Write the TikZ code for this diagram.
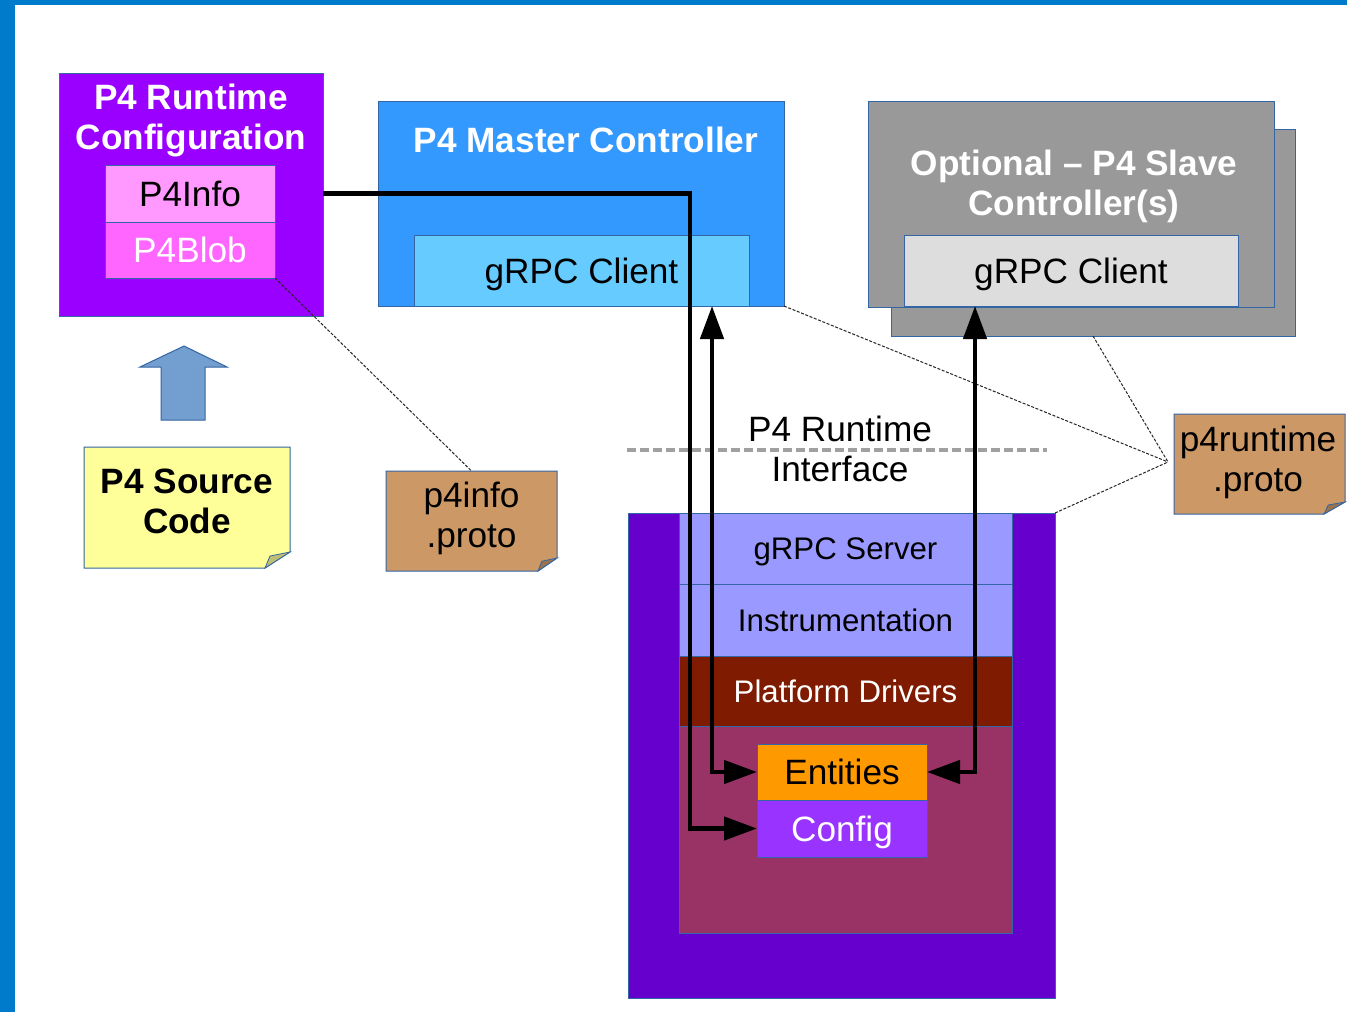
\documentclass[tikz,border=0pt]{standalone}
\usepackage{fontspec}
\setmainfont{Liberation Sans}
\usetikzlibrary{arrows.meta,calc}
\definecolor{framec}{HTML}{007BCB}
\definecolor{boxline}{HTML}{3465A4}
\definecolor{violetc}{HTML}{9900FF}
\definecolor{pinkc}{HTML}{FF99FF}
\definecolor{magc}{HTML}{FF66FF}
\definecolor{masterc}{HTML}{3399FF}
\definecolor{mgrpcc}{HTML}{66CCFF}
\definecolor{slavec}{HTML}{999999}
\definecolor{sgrpcc}{HTML}{DDDDDD}
\definecolor{devc}{HTML}{6600CC}
\definecolor{layerc}{HTML}{9999FF}
\definecolor{drvc}{HTML}{7E1B00}
\definecolor{corec}{HTML}{993366}
\definecolor{entc}{HTML}{FF9900}
\definecolor{cfgc}{HTML}{9933FF}
\definecolor{brownc}{HTML}{CC9966}
\definecolor{yellowc}{HTML}{FFFF99}
\definecolor{blockc}{HTML}{729FCF}
\definecolor{ifacec}{HTML}{A0A0A0}
\newcommand\rbox[7]{\node[box,#6,minimum width={(#4-(#2))*0.5pt},minimum height={(#5-(#3))*0.5pt}] (#1) at ({(#2+#4)/2},{(#3+#5)/2}) {#7};}
\newcommand\foldnote[5]{%
  \filldraw[fill=#4,draw=boxline,line width=0.5pt] (#1.north west) -- (#1.north east) -- ($(#1.south east)+(0,-#3)$) -- ($(#1.south east)+(-#2,0)$) -- (#1.south west) -- cycle;
  \filldraw[fill=#5,draw=boxline,line width=0.4pt] ($(#1.south east)+(-#2,0)$) -- ($(#1.south east)+(0,-#3)$) -- ($(#1.south east)+(-0.8*#2,-0.75*#3)$) -- cycle;}
\begin{document}
\begin{tikzpicture}[x=0.5pt,y=-0.5pt,
  >={Triangle[length=16.5pt,width=11.5pt]},
  box/.style={draw=boxline,line width=0.5pt,inner sep=0pt,outer sep=0pt,rectangle},
  ghost/.style={inner sep=0pt,outer sep=0pt,rectangle},
  big/.style={font=\fontsize{17.6}{20}\selectfont,text height=12.6pt,text depth=0pt},
  bigb/.style={font=\fontsize{17.6}{20}\selectfont\bfseries,text height=12.6pt,text depth=0pt},
  bigml/.style={font=\fontsize{17.6}{20}\selectfont,align=center,inner sep=0pt},
  bigbml/.style={font=\fontsize{17.6}{20}\selectfont\bfseries,align=center,inner sep=0pt},
  small/.style={font=\fontsize{15.6}{20}\selectfont,text height=11.2pt,text depth=0pt},
  conn/.style={line width=2.3pt,black},
  callout/.style={line width=0.5pt,black!85,dash pattern=on 1.5pt off 0.8pt},
  iface/.style={line width=2pt,ifacec,dash pattern=on 4.5pt off 2pt}]
\useasboundingbox (0,0) rectangle (1347,1012);
\fill[white] (0,0) rectangle (1347,1012);
\fill[framec] (0,0) rectangle (1347,5);
\fill[framec] (0,0) rectangle (15,1012);

% P4 Runtime configuration
\rbox{p4rc}{59}{73}{323}{316}{fill=violetc}{}
\node[bigbml,text=white] (p4rctitle) at (191,120) {P4 Runtime\\Configuration};
\rbox{p4info}{105}{165}{275}{222}{fill=pinkc,big}{P4Info}
\rbox{p4blob}{105}{222}{275}{278}{fill=magc,big,text=white}{P4Blob}

% block arrow
\filldraw[fill=blockc,draw=boxline,line width=0.5pt] (184,346) -- (227,367) -- (205,367) -- (205,420) -- (161,420) -- (161,367) -- (140,367) -- cycle;

% P4 source code note
\node[ghost,minimum width=103pt,minimum height=60.5pt] (srcnote) at (187,507.5) {};
\foldnote{srcnote}{25}{16}{yellowc}{yellowc!75!black}
\node[bigbml] (srctext) at (187,501) {P4 Source\\Code};

% p4info.proto note
\node[ghost,minimum width=85.5pt,minimum height=50pt] (p4infonote) at (471.5,521) {};
\foldnote{p4infonote}{19}{13}{brownc}{brownc!75!black}
\node[bigml] (p4infotext) at (471.5,518.5) {p4info\\.proto};

% master controller
\rbox{master}{378}{101}{784}{306}{fill=masterc}{}
\node[bigb,text=white] (mtitle) at (586,140) {P4 Master Controller};
\rbox{mgrpc}{414}{235}{749}{306}{fill=mgrpcc,big}{gRPC Client}

% slave controllers
\rbox{slaveback}{891}{129}{1295}{336}{fill=slavec}{}
\rbox{slave}{868}{101}{1274}{307}{fill=slavec}{}
\node[bigbml,text=white] (stitle) at (1074,186.5) {Optional -- P4 Slave\\Controller(s)};
\rbox{sgrpc}{904}{235}{1238}{306}{fill=sgrpcc,big}{gRPC Client}

% p4runtime.proto note
\node[ghost,minimum width=85.5pt,minimum height=50pt] (p4rnote) at (1259.5,464) {};
\foldnote{p4rnote}{21}{12}{brownc}{brownc!75!black}
\node[bigml] (p4rtext) at (1258,462) {p4runtime\\.proto};
\coordinate (callp4r) at ($(p4rnote.west)+(-6,-2)$);

% device
\rbox{device}{628}{513}{1055}{998}{fill=devc}{}
\rbox{grpcs}{679}{513}{1012}{584}{fill=layerc,small}{gRPC Server}
\rbox{instr}{679}{584}{1012}{656}{fill=layerc,small}{Instrumentation}
\rbox{drivers}{679}{656}{1012}{726}{fill=drvc,small,text=white}{Platform Drivers}
\rbox{core}{679}{726}{1012}{933}{fill=corec}{}
\rbox{entities}{757}{744}{927}{800}{fill=entc,big}{Entities}
\rbox{config}{757}{800}{927}{857}{fill=cfgc,big,text=white}{Config}

% P4 runtime interface
\coordinate (ifl) at (627,450);
\coordinate (ifr) at (1047,450);
\draw[iface] (ifl) -- (ifr);
\node[bigml] (iftext) at (840,449) {P4 Runtime\\Interface};

% callouts
\draw[callout] (p4blob.south east) -- (p4infonote.north);
\draw[callout] (master.south east) -- (callp4r);
\draw[callout] (slaveback.south) -- (callp4r);
\draw[callout] (device.north east) -- (callp4r);

% connectors
\coordinate (c1) at (690,500);
\coordinate (c2) at (712,500);
\coordinate (c3) at (975,500);
\draw[conn,->] (p4rc.east |- p4info.center) -| (c1) |- (config.west);
\draw[conn,<->] (mgrpc.south -| c2) |- (entities.west);
\draw[conn,<->] (sgrpc.south -| c3) |- (entities.east);
\end{tikzpicture}
\end{document}
